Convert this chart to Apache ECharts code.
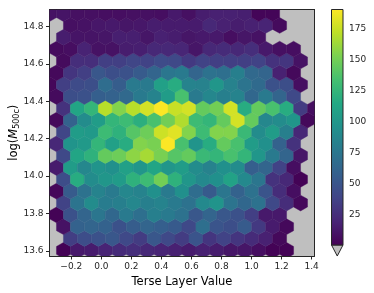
<!DOCTYPE html>
<html><head><meta charset="utf-8">
<style>html,body{margin:0;padding:0;background:#fff}#c{width:374px;height:293px}</style>
<script src="https://cdn.jsdelivr.net/npm/echarts@6/dist/echarts.min.js"></script>
</head><body><div id="c"></div>
<script>
const N = null;
const row20 = [10,11,9,9,8,8,9,9,8,14,9,16,18,18,17,3,3,N,N,N];
const row19 = [N,9,10,13,14,12,13,16,15,15,15,22,18,16,18,20,6,N,N];
const row18 = [N,16,11,11,12,17,17,12,18,16,12,14,14,8,12,10,N,N,N,N];
const row17 = [6,8,19,10,10,16,17,22,22,21,12,22,24,22,26,14,9,8,N];
const row16 = [N,6,26,26,36,36,40,38,44,42,32,38,36,36,36,38,28,30,10,N];
const row15 = [5,30,36,52,46,48,55,62,75,78,62,72,70,82,65,62,18,5,N];
const row14 = [4,36,44,46,68,56,78,78,108,118,85,84,100,84,74,66,48,46,8,N];
const row13 = [6,46,48,58,60,65,78,85,105,135,78,88,82,85,64,78,62,42,N];
const row12 = [N,28,112,125,170,155,170,178,190,175,178,145,150,178,118,145,135,118,34,8];
const row11 = [5,60,92,105,125,130,120,135,150,168,130,125,145,178,145,88,92,100,5];
const row10 = [N,40,105,102,130,122,140,148,176,182,155,130,155,155,128,92,105,82,22,N];
const row9  = [22,98,102,125,108,118,155,152,190,135,98,118,145,135,105,95,60,28,N];
const row8  = [N,42,112,122,145,148,158,165,152,140,145,128,125,135,125,100,78,62,12,N];
const row7  = [15,105,88,98,95,108,100,112,100,105,92,84,95,92,58,62,38,8,N];
const row6  = [N,45,118,92,100,104,122,130,150,122,100,90,95,110,90,75,28,22,2,N];
const row5  = [4,55,72,85,78,88,85,95,78,95,68,54,75,60,72,50,25,8,N];
const row4  = [N,38,74,92,80,82,88,82,85,78,72,90,98,74,64,72,42,25,5,N];
const row3  = [2,48,62,75,64,78,70,82,78,72,52,62,52,48,36,14,14,N,N];
const row2  = [N,10,60,62,60,48,56,62,58,54,42,70,50,46,55,32,15,5,N,N];
const row1  = [N,35,45,48,52,42,34,52,42,34,50,30,38,30,24,18,5,N,N];
const row0  = [N,2,14,15,20,24,26,22,20,18,15,18,16,12,12,8,2,2,N,N];
const rows = [row0,row1,row2,row3,row4,row5,row6,row7,row8,row9,row10,row11,row12,row13,row14,row15,row16,row17,row18,row19,row20];

const xTicks = [-0.2,0,0.2,0.4,0.6,0.8,1.0,1.2,1.4];
const yTicks = [13.6,13.8,14.0,14.2,14.4,14.6,14.8];
const cbTicks = [25,50,75,100,125,150,175];
const viridis = ['#440154','#482475','#414487','#355f8d','#2a788e','#21918c','#22a884','#44bf70','#7ad151','#bddf26','#fde725'];
const xMin=-0.345, xMax=1.419, yMin=13.572, yMax=14.892;
const cMin=0.8, cMax=190.6;
const binDx=(xMax-xMin)/19, binDy=0.0634, binY0=13.602;

const cells=[];
rows.forEach((r,j)=>r.forEach((v,i)=>{
  if(v===N) return;
  cells.push([xMin+(i+(j%2?0.5:0))*binDx, binY0+j*binDy, v]);
}));
const ink='#262626';
const font='"DejaVu Sans"';
const chart=echarts.init(document.getElementById('c'),null,{renderer:'canvas'});
const hexShape=[[.5,-1/3],[.5,1/3],[0,2/3],[-.5,1/3],[-.5,-1/3],[0,-2/3]];
chart.setOption({
  animation:false,
  backgroundColor:'#fff',
  grid:[
    {left:49.5,top:9.5,width:265,height:246.5,show:true,backgroundColor:'#bfbfbf',borderWidth:0,outerBoundsMode:'none'},
    {left:331.5,top:9.5,width:11.5,height:235.5,show:false,outerBoundsMode:'none'}
  ],
  xAxis:[
    {gridIndex:0,type:'value',min:xMin,max:xMax,position:'bottom',splitLine:{show:false},
     axisLine:{onZero:false,lineStyle:{color:ink,width:1}},
     axisTick:{length:3.5,customValues:xTicks,lineStyle:{color:ink}},
     axisLabel:{customValues:xTicks,color:ink,fontFamily:font,fontSize:9,margin:6,hideOverlap:false,
       showMinLabel:true,showMaxLabel:true,formatter:v=>(v<0?'\u2212':'')+Math.abs(v).toFixed(1)},
     name:'Terse Layer Value',nameLocation:'middle',nameGap:20,nameMoveOverlap:false,nameTextStyle:{color:'#000',fontFamily:font,fontSize:11.5}},
    {gridIndex:0,type:'value',min:xMin,max:xMax,position:'top',splitLine:{show:false},
     axisLine:{show:true,onZero:false,lineStyle:{color:ink,width:1}},axisTick:{show:false},axisLabel:{show:false}},
    {gridIndex:1,type:'value',min:0,max:1,show:false}
  ],
  yAxis:[
    {gridIndex:0,type:'value',min:yMin,max:yMax,position:'left',splitLine:{show:false},
     axisLine:{show:true,onZero:false,lineStyle:{color:ink,width:1}},
     axisTick:{show:true,length:3.5,customValues:yTicks,lineStyle:{color:ink}},
     axisLabel:{customValues:yTicks,color:ink,fontFamily:font,fontSize:9,margin:6,formatter:v=>v.toFixed(1)},
     name:'{a|log(}{i|M}{s|500c}{a|)}',nameLocation:'middle',nameGap:29,nameMoveOverlap:false,
     nameTextStyle:{rich:{a:{fontFamily:font,fontSize:11.5,color:'#000'},i:{fontFamily:font,fontSize:11.5,fontStyle:'italic',color:'#000'},s:{fontFamily:font,fontSize:8,color:'#000',verticalAlign:'bottom',padding:[5,0,0,0]}}}},
    {gridIndex:0,type:'value',min:yMin,max:yMax,position:'right',splitLine:{show:false},
     axisLine:{show:true,onZero:false,lineStyle:{color:ink,width:1}},axisTick:{show:false},axisLabel:{show:false}},
    {gridIndex:1,type:'value',min:cMin,max:cMax,position:'right',splitLine:{show:false},
     axisLine:{show:false},
     axisTick:{show:true,length:3.5,customValues:cbTicks,lineStyle:{color:ink}},
     axisLabel:{customValues:cbTicks,color:ink,fontFamily:font,fontSize:9,margin:6}}
  ],
  visualMap:{show:false,seriesIndex:0,dimension:2,min:cMin,max:cMax,inRange:{color:viridis}},
  series:[
    {type:'custom',xAxisIndex:0,yAxisIndex:0,clip:true,data:cells,encode:{x:0,y:1},z:2,
     renderItem(p,api){
       const cx=api.value(0),cy=api.value(1),c=api.visual('color');
       const pts=hexShape.map(o=>api.coord([cx+o[0]*binDx,cy+o[1]*binDy]));
       return {type:'polygon',shape:{points:pts},style:{fill:c,stroke:c,lineWidth:0.4},
         clipPath:{type:'rect',shape:{x:p.coordSys.x,y:p.coordSys.y,width:p.coordSys.width,height:p.coordSys.height}}};
     }},
    {type:'custom',xAxisIndex:2,yAxisIndex:2,data:[[0,cMin,1,cMax]],z:2,silent:true,
     renderItem(p,api){
       const a=api.coord([api.value(0),api.value(1)]),b=api.coord([api.value(2),api.value(3)]);
       const tip=api.coord([0.5,cMin-8.9]);
       const stops=viridis.map((col,i)=>({offset:1-i/(viridis.length-1),color:col}));
       return {type:'group',children:[
         {type:'polygon',shape:{points:[a,[b[0],a[1]],[tip[0],tip[1]]]},style:{fill:'#bfbfbf',stroke:ink,lineWidth:1}},
         {type:'rect',shape:{x:a[0],y:b[1],width:b[0]-a[0],height:a[1]-b[1]},
          style:{fill:new echarts.graphic.LinearGradient(0,0,0,1,stops),stroke:ink,lineWidth:1}}
       ]};
     }}
  ]
});
</script></body></html>
